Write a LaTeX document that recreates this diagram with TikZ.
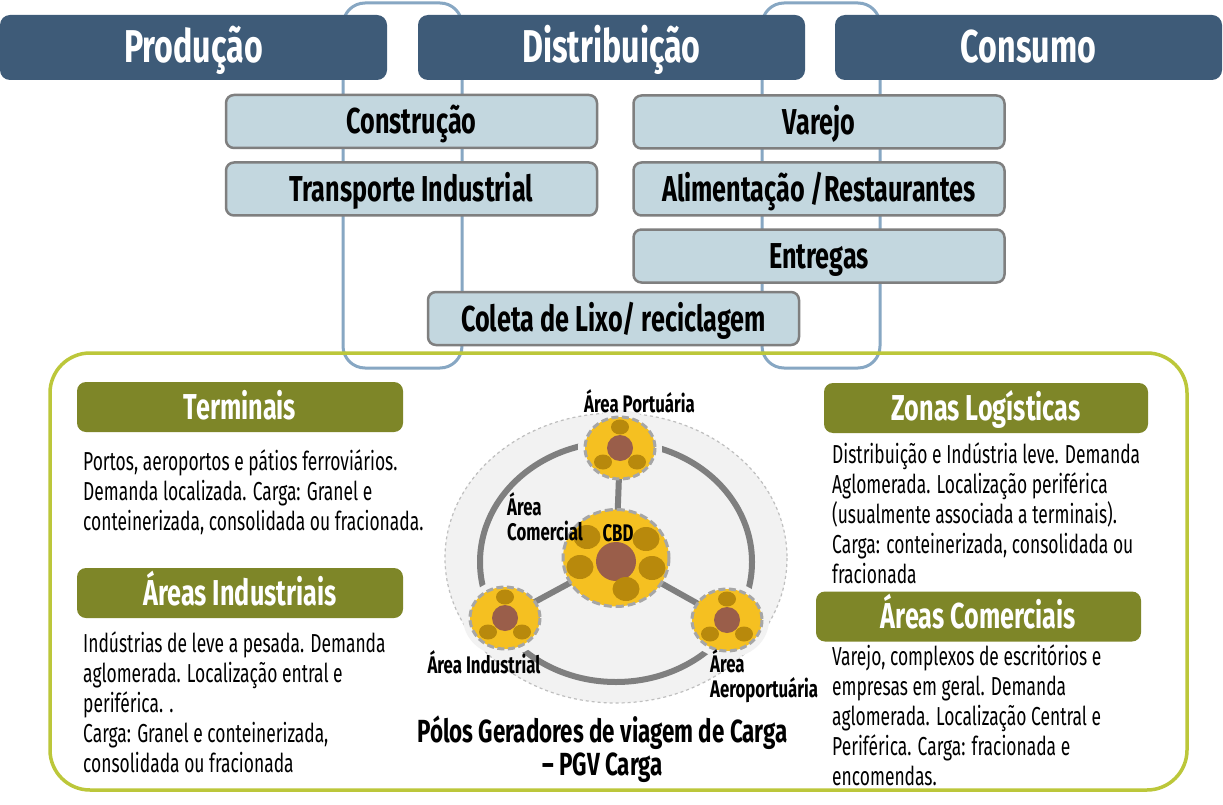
\documentclass[tikz,border=0pt]{standalone}
\usepackage{fontspec}
\setmainfont{Fira Sans}[FakeStretch=0.67,BoldFeatures={FakeStretch=0.70}]
\usetikzlibrary{shapes.geometric,calc}
\definecolor{darkhdr}{HTML}{3E5B78}
\definecolor{lightfill}{HTML}{C3D7DF}
\definecolor{lightborder}{HTML}{7F7F7F}
\definecolor{linkblue}{HTML}{87A7C3}
\definecolor{olive}{HTML}{7E8628}
\definecolor{framegreen}{HTML}{BCC73A}
\definecolor{gold}{HTML}{F5C021}
\definecolor{darkgold}{HTML}{B8890C}
\definecolor{brown}{HTML}{9A5E4A}
\definecolor{dashgray}{HTML}{A6A6A6}
\definecolor{ellfill}{HTML}{F2F2F2}
\definecolor{ellborder}{HTML}{BFBFBF}
\definecolor{ringgray}{HTML}{7F7F7F}
\begin{document}
\begin{tikzpicture}[x=1pt,y=-1pt,
  topbox/.style={fill=darkhdr, rounded corners=10pt, text=white, minimum width=387pt, minimum height=65pt, font=\bfseries\fontsize{46}{50}\selectfont, inner sep=0pt, text height=31pt, text depth=0pt},
  lightbox/.style={fill=lightfill, draw=lightborder, line width=2.5pt, rounded corners=8pt, minimum width=371pt, minimum height=53pt, font=\bfseries\fontsize{36}{40}\selectfont, inner sep=0pt, text height=25pt, text depth=0pt},
  olivebox/.style={fill=olive, rounded corners=9pt, text=white, minimum width=326pt, minimum height=50pt, font=\bfseries\fontsize{36}{40}\selectfont, inner sep=0pt, text height=24pt, text depth=0pt},
  link/.style={draw=linkblue, line width=3pt, rounded corners=22pt},
  body/.style={anchor=base west, inner sep=0pt, font=\fontsize{26}{30}\selectfont},
  lbl/.style={inner sep=0pt, font=\bfseries\fontsize{24}{25}\selectfont},
  ring/.style={draw=ringgray, line width=6pt},
  halo/.style={fill=ellfill, draw=none},
  pole/.style={fill=gold, draw=dashgray, line width=3pt, dash pattern=on 8pt off 4pt},
  sat/.style={fill=darkgold},
  core/.style={fill=brown}
]
\useasboundingbox (0,0) rectangle (1223,805);
\fill[white] (0,0) rectangle (1223,805);

% links
\draw[link] (343,3) rectangle (462,368);
\draw[link] (762,3) rectangle (880,368);

% top row
\node[topbox] (prod) at (193.5,47.5) {Produção};
\node[topbox] (dist) at (611.5,47.5) {Distribuição};
\node[topbox] (cons) at (1028.5,47.5) {Consumo};

% light boxes
\node[lightbox] (constr) at (411.5,121.5) {Construção};
\node[lightbox] (transp) at (411.5,189) {Transporte Industrial};
\node[lightbox] (varejo) at (819,122) {Varejo};
\node[lightbox] (alim) at (819,189) {Alimentação /Restaurantes};
\node[lightbox] (entr) at (819,256) {Entregas};
\node[lightbox] (coleta) at (613.5,318.5) {Coleta de Lixo/ reciclagem};

% green frame
\draw[draw=framegreen, line width=3.5pt, rounded corners=40pt] (50,353) rectangle (1187,790);

% olive headers
\node[olivebox] (term) at (240,407) {Terminais};
\node[olivebox] (ind) at (240,593) {Áreas Industriais};
\node[olivebox, minimum width=324pt] (zonas) at (986,408) {Zonas Logísticas};
\node[olivebox, minimum width=325pt] (comer) at (978.5,616.5) {Áreas Comerciais};

% body texts
\node[body] (termtxt) at (83,470) {\parbox[t]{400pt}{Portos, aeroportos e pátios ferroviários.\\Demanda localizada. Carga: Granel e\\conteinerizada, consolidada ou fracionada.}};
\node[body] (indtxt) at (83,652) {\parbox[t]{400pt}{Indústrias de leve a pesada. Demanda\\aglomerada. Localização entral e\\periférica. .\\Carga: Granel e conteinerizada,\\consolidada ou fracionada}};
\node[body] (zontxt) at (832,463) {\parbox[t]{400pt}{Distribuição e Indústria leve. Demanda\\Aglomerada. Localização periférica\\(usualmente associada a terminais).\\Carga: conteinerizada, consolidada ou\\fracionada}};
\node[body] (comtxt) at (832,665) {\parbox[t]{400pt}{Varejo, complexos de escritórios e\\empresas em geral. Demanda\\aglomerada. Localização Central e\\Periférica. Carga: fracionada e\\encomendas.}};

% central diagram
\filldraw[fill=ellfill, draw=ellborder, dashed, line width=1.2pt] (616,558) ellipse [x radius=171, y radius=145];
\draw[ring] (616,562) ellipse [x radius=136, y radius=120];

\coordinate (cbdc) at (616,558);
\coordinate (portc) at (620,448);
\coordinate (indc) at (505,618);
\coordinate (aeroc) at (727,620);

\foreach \c in {portc,indc,aeroc}{
  \fill[halo] (\c) ellipse [x radius=42, y radius=38];
}
\draw[ring] (cbdc) -- (portc);
\draw[ring] (cbdc) -- (indc);
\draw[ring] (cbdc) -- (aeroc);

% CBD
\filldraw[pole] (cbdc) ellipse [x radius=53, y radius=48.5];
\fill[core] (616,561.5) ellipse [x radius=20, y radius=19.5];
\foreach \dx/\dy in {-29/-21, 30/-19, -36/9, 36/10, 10/31}{
  \fill[sat] ($(cbdc)+(\dx,\dy)$) ellipse [x radius=13.5, y radius=12];
}
% small poles
\foreach \c in {portc,indc,aeroc}{
  \filldraw[pole, dash pattern=on 7pt off 3.5pt] (\c) ellipse [x radius=35, y radius=31];
  \fill[core] (\c) ellipse [x radius=13, y radius=13];
  \fill[sat] ($(\c)+(0,-21)$) ellipse [x radius=9, y radius=7.5];
  \fill[sat] ($(\c)+(-17,14)$) ellipse [x radius=9, y radius=7.5];
  \fill[sat] ($(\c)+(17,14)$) ellipse [x radius=9, y radius=7.5];
}

% labels
\node[lbl, anchor=base] (lport) at (639.5,412) {Área Portuária};
\node[lbl, anchor=base west] (lcom) at (507,515) {\parbox[t]{120pt}{Área\\Comercial}};
\node[lbl, anchor=base] (lcbd) at (618,541) {CBD};
\node[lbl, anchor=base] (lind) at (484,673) {Área Industrial};
\node[lbl, anchor=base west] (laero) at (710,672) {\parbox[t]{140pt}{Área\\Aeroportuária}};
\node[anchor=base, inner sep=0pt, font=\bfseries\fontsize{32}{35}\selectfont] (cap1) at (602.5,742) {Pólos Geradores de viagem de Carga};
\node[anchor=base, inner sep=0pt, font=\bfseries\fontsize{32}{35}\selectfont] (cap2) at (602.5,775) {– PGV Carga};
\end{tikzpicture}
\end{document}
